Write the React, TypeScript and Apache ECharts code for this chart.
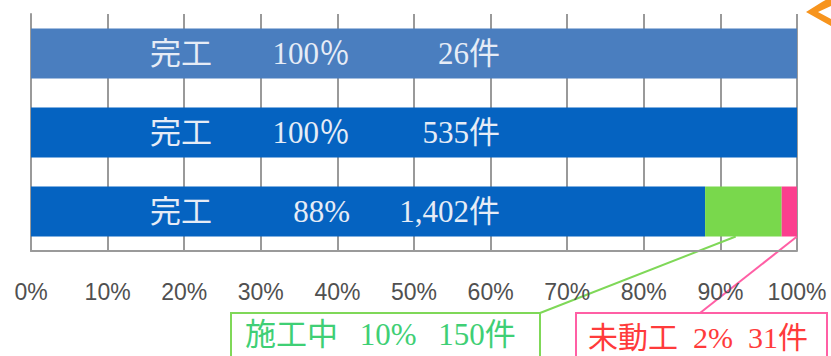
import React, { useEffect, useRef } from 'react';
import * as echarts from 'echarts';

const categories = ['row1', 'row2', 'row3'];
const completedPct = [100, 100, 88];
const inProgressPct = [0, 0, 10];
const notStartedPct = [0, 0, 2];
const completedLabel = ['完工', '完工', '完工'];
const pctLabels = ['100％', '100％', '88%'];
const countLabels = ['26件', '535件', '1,402件'];
const inProgressNote = '施工中\u2002\u200910%\u2002\u2009150件';
const notStartedNote = '未動工\u20022%\u200231件';
const inProgressAnchor = 92;
const notStartedAnchor = 100;

const SERIF = '"Liberation Serif", "DejaVu Serif", "Noto Sans CJK JP", serif';

export default function App() {
  const ref = useRef<HTMLDivElement>(null);
  useEffect(() => {
    if (!ref.current) return;
    const chart = echarts.init(ref.current, undefined, { renderer: 'svg' });
    const barColors = ['#4a7ebf', '#0563c1', '#0563c1'];
    const labelColor = '#e6ecf6';
    chart.setOption({
      animation: false,
      grid: { left: 31, right: 34, top: 14, bottom: 105 },
      xAxis: {
        type: 'value',
        min: 0,
        max: 100,
        interval: 10,
        axisLine: { show: true, lineStyle: { color: '#9a9a9a', width: 2 } },
        axisTick: { show: false },
        splitLine: { show: true, lineStyle: { color: '#9a9a9a', width: 2 } },
        axisLabel: {
          formatter: '{value}%',
          fontSize: 23,
          color: '#505050',
          margin: 29,
          fontFamily: '"Liberation Sans", Arial, sans-serif',
        },
      },
      yAxis: {
        type: 'category',
        data: categories,
        inverse: true,
        axisLine: { show: true, lineStyle: { color: '#9a9a9a', width: 2 } },
        axisTick: { show: false },
        axisLabel: { show: false },
        splitLine: { show: false },
      },
      series: [
        {
          name: '完工',
          type: 'bar',
          stack: 'total',
          barWidth: 50,
          data: completedPct.map((v, i) => ({ value: v, itemStyle: { color: barColors[i] } })),
          label: {
            show: true,
            position: [119, '50%'],
            align: 'left',
            verticalAlign: 'middle',
            formatter: (p: any) =>
              `{a|${completedLabel[p.dataIndex]}}{b|${pctLabels[p.dataIndex]}}{c|${countLabels[p.dataIndex]}}`,
            rich: {
              a: { width: 100, align: 'left', fontSize: 31, color: labelColor, fontFamily: SERIF },
              b: { width: 100, align: 'right', fontSize: 31, color: labelColor, fontFamily: SERIF },
              c: { width: 150, align: 'right', fontSize: 31, color: labelColor, fontFamily: SERIF },
            },
          },
        },
        {
          name: '施工中',
          type: 'bar',
          stack: 'total',
          barWidth: 50,
          itemStyle: { color: '#79d84c' },
          data: inProgressPct,
        },
        {
          name: '未動工',
          type: 'bar',
          stack: 'total',
          barWidth: 50,
          itemStyle: { color: '#fb3f8e' },
          data: notStartedPct,
        },
      ],
    });

    const g = chart.convertToPixel({ gridIndex: 0 }, [inProgressAnchor, 2]) as number[];
    const p = chart.convertToPixel({ gridIndex: 0 }, [notStartedAnchor, 2]) as number[];
    const barBottom = g[1] + 25;

    chart.setOption({
      graphic: [
        {
          type: 'line',
          shape: { x1: g[0], y1: barBottom, x2: 540, y2: 313 },
          style: { stroke: '#7fd858', lineWidth: 2 },
        },
        {
          type: 'line',
          shape: { x1: p[0], y1: barBottom, x2: 700, y2: 313 },
          style: { stroke: '#ff5fa5', lineWidth: 2 },
        },
        {
          type: 'rect',
          shape: { x: 231, y: 313, width: 309, height: 60 },
          style: { fill: '#fff', stroke: '#7fd858', lineWidth: 2 },
        },
        {
          type: 'text',
          x: 245,
          y: 334,
          style: {
            text: inProgressNote,
            fill: '#3fcf75',
            fontSize: 31,
            fontFamily: SERIF,
            verticalAlign: 'middle',
            align: 'left',
          },
        },
        {
          type: 'rect',
          shape: { x: 576, y: 313, width: 251, height: 60 },
          style: { fill: '#fff', stroke: '#ff5fa5', lineWidth: 2 },
        },
        {
          type: 'text',
          x: 588,
          y: 337,
          style: {
            text: notStartedNote,
            fill: '#ff3b3b',
            fontSize: 30,
            fontFamily: SERIF,
            verticalAlign: 'middle',
            align: 'left',
          },
        },
        {
          type: 'polygon',
          shape: {
            points: [
              [806, 12],
              [822, 2],
              [831, -3],
              [831, 6],
              [818, 12],
              [831, 19],
              [831, 26],
              [822, 21],
            ],
          },
          style: { fill: '#f7941d' },
        },
      ],
    });

    return () => chart.dispose();
  }, []);

  return (
    <div
      ref={ref}
      style={{ position: 'absolute', left: 0, top: 0, width: 831, height: 356 }}
    />
  );
}
